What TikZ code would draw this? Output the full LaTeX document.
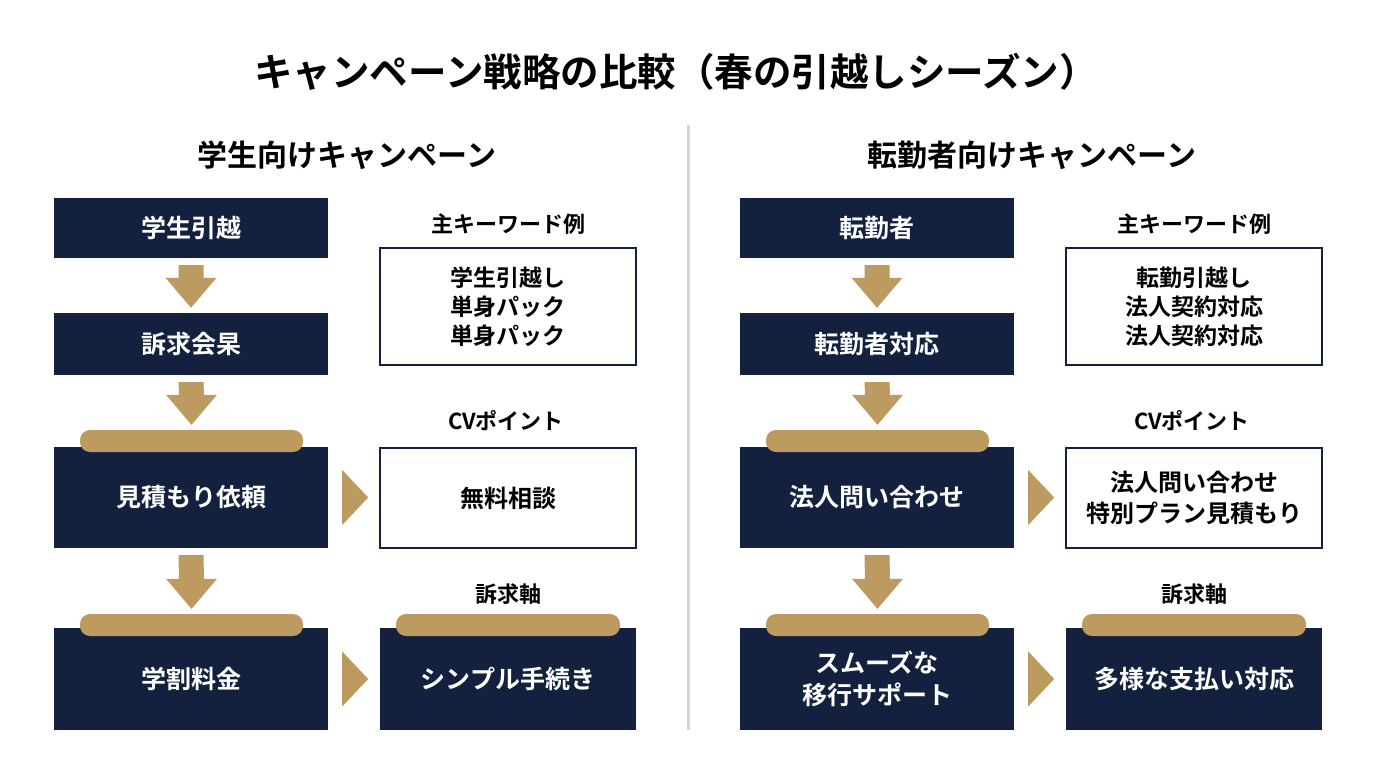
\documentclass[tikz,border=0pt]{standalone}
\usepackage{fontspec}
\setmainfont{Noto Sans CJK JP}[BoldFont={* Bold}]
\usetikzlibrary{calc}
\definecolor{navy}{HTML}{13213F}
\definecolor{gold}{HTML}{BC9A60}
\definecolor{divgray}{HTML}{D3D6DB}
\newcommand\dnarrow[2]{%
  \fill[gold] ($(#1.south)+(-12.5,7)$) -- ($(#1.south)+(12.5,7)$) -- ($(#2.north)+(12.5,-35)$) -- ($(#2.north)+(25.5,-35)$) -- ($(#2.north)+(0,-5)$) -- ($(#2.north)+(-25.5,-35)$) -- ($(#2.north)+(-12.5,-35)$) -- cycle;}
\newcommand\rtarrow[1]{%
  \fill[gold] ($(#1.east)+(14,-27.5)$) -- ($(#1.east)+(40,0)$) -- ($(#1.east)+(14,27.5)$) -- cycle;}
\begin{document}
\begin{tikzpicture}[x=1pt,y=-1pt,
  navybox/.style={fill=navy, text=white, inner sep=0pt, align=center, font=\bfseries\fontsize{25}{32}\selectfont},
  whitebox/.style={fill=white, draw=navy, line width=2pt, text=black, inner sep=0pt, align=center, font=\bfseries\fontsize{23}{29}\selectfont},
  goldbar/.style={fill=gold, rounded corners=10pt, inner sep=0pt, minimum height=22pt},
  lbl/.style={text=black, font=\bfseries\fontsize{22}{26}\selectfont},
  hdr/.style={text=black, font=\bfseries\fontsize{30}{36}\selectfont},
]
\useasboundingbox[fill=white] (0,0) rectangle (1376,768);
\node[text=black, font=\bfseries\fontsize{38.5}{44}\selectfont] (title) at (676,72) {キャンペーン戦略の比較（春の引越しシーズン）};
\draw[divgray, line width=3pt] (688,125) coordinate (d1) -- (688,730) coordinate (d2);

% ---------- left ----------
\node[hdr] (hl) at (347,155) {学生向けキャンペーン};
\node[navybox, minimum width=274pt, minimum height=60pt] (l1) at (191,228) {学生引越};
\node[navybox, minimum width=274pt, minimum height=62pt] (l2) at (191,344) {訴求会杲};
\node[navybox, minimum width=274pt, minimum height=101pt] (l3) at (191,497.5) {見積もり依頼};
\node[navybox, minimum width=274pt, minimum height=102pt] (l4) at (191,679) {学割料金};
\node[goldbar, minimum width=223pt] (lg3) at (191.5,441) {};
\node[goldbar, minimum width=223pt] (lg4) at (191.5,625) {};
\dnarrow{l1}{l2}
\dnarrow{l2}{lg3}
\dnarrow{l3}{lg4}

\node[lbl] (lk) at (508,224) {主キーワード例};
\node[whitebox, minimum width=256pt, minimum height=117pt] (lkb) at (508,306.5) {学生引越し\\単身パック\\単身パック};
\node[lbl] (lc) at (506,421) {CVポイント};
\node[whitebox, minimum width=256pt, minimum height=100pt, font=\bfseries\fontsize{24}{31}\selectfont] (lcb) at (508,498) {無料相談};
\node[lbl] (ls) at (508,594) {訴求軸};
\node[navybox, minimum width=256pt, minimum height=102pt] (lsb) at (508,679) {シンプル手続き};
\node[goldbar, minimum width=224pt] (lgs) at (508,625) {};
\rtarrow{l3}
\rtarrow{l4}

% ---------- right ----------
\node[hdr] (hr) at (1032,155) {転勤者向けキャンペーン};
\node[navybox, minimum width=274pt, minimum height=60pt] (r1) at (877,228) {転勤者};
\node[navybox, minimum width=274pt, minimum height=62pt] (r2) at (877,344) {転勤者対応};
\node[navybox, minimum width=274pt, minimum height=101pt] (r3) at (877,497.5) {法人問い合わせ};
\node[navybox, minimum width=274pt, minimum height=102pt] (r4) at (877,679) {スムーズな\\移行サポート};
\node[goldbar, minimum width=223pt] (rg3) at (877.5,441) {};
\node[goldbar, minimum width=223pt] (rg4) at (877.5,625) {};
\dnarrow{r1}{r2}
\dnarrow{r2}{rg3}
\dnarrow{r3}{rg4}

\node[lbl] (rk) at (1194,224) {主キーワード例};
\node[whitebox, minimum width=256pt, minimum height=117pt] (rkb) at (1194,306.5) {転勤引越し\\法人契約対応\\法人契約対応};
\node[lbl] (rc) at (1192,421) {CVポイント};
\node[whitebox, minimum width=256pt, minimum height=100pt, font=\bfseries\fontsize{24}{31}\selectfont] (rcb) at (1194,498) {法人問い合わせ\\特別プラン見積もり};
\node[lbl] (rs) at (1194,594) {訴求軸};
\node[navybox, minimum width=256pt, minimum height=102pt] (rsb) at (1194,679) {多様な支払い対応};
\node[goldbar, minimum width=224pt] (rgs) at (1194,625) {};
\rtarrow{r3}
\rtarrow{r4}
\end{tikzpicture}
\end{document}
